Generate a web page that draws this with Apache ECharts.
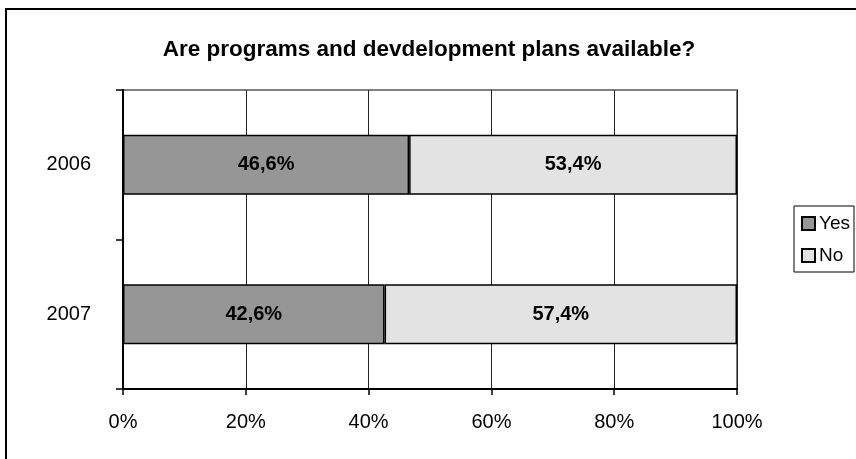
<!DOCTYPE html>
<html><head><meta charset="utf-8">
<script src="https://cdn.jsdelivr.net/npm/echarts@6/dist/echarts.min.js"></script>
<style>html,body{margin:0;padding:0;background:#fff}#c{width:856px;height:459px}</style>
</head><body><div id="c"></div>
<script>
const categories = ['2006', '2007'];
const yesValues = [0.466, 0.426];
const noValues = [0.534, 0.574];
const seriesNames = ['Yes', 'No'];
const xTicks = [0, 0.2, 0.4, 0.6, 0.8, 1];
const title = 'Are programs and devdelopment plans available?';

const font = '"Liberation Sans", Arial, sans-serif';
const fmt = v => (v * 100).toFixed(1).replace('.', ',') + '%';
const chart = echarts.init(document.getElementById('c'), null, {renderer: 'canvas'});
chart.setOption({
  animation: false,
  backgroundColor: '#fff',
  textStyle: {fontFamily: font},
  title: {text: title, left: 424, top: 33, textAlign: 'center',
    textStyle: {fontFamily: font, fontSize: 22.5, fontWeight: 'bold', color: '#000'}},
  graphic: [{type: 'rect', shape: {x: 6, y: 9, width: 900, height: 500},
    style: {fill: 'none', stroke: '#000', lineWidth: 2}, z: 100},
    {type: 'rect', shape: {x: 794, y: 206, width: 60, height: 66},
    style: {fill: '#fff', stroke: '#000', lineWidth: 1}, z: 1}],
  legend: {orient: 'vertical', left: 801, top: 214, itemWidth: 13, itemHeight: 13, itemGap: 13,
    icon: 'rect', data: seriesNames, z: 5, padding: 0,
    textStyle: {fontFamily: font, fontSize: 19, color: '#000', padding: [0, 0, 0, -1]}},
  grid: {left: 123, right: 119, top: 90, bottom: 70, show: true, borderColor: '#808080', borderWidth: 2},
  xAxis: {type: 'value', min: 0, max: 1, interval: 0.2,
    axisLine: {show: true, lineStyle: {color: '#000', width: 2}},
    axisTick: {show: true, length: 6, lineStyle: {color: '#000', width: 1.5}},
    axisLabel: {formatter: v => Math.round(v * 100) + '%', fontFamily: font, fontSize: 20, color: '#000', margin: 23},
    splitLine: {show: true, lineStyle: {color: '#222', width: 1}}},
  yAxis: {type: 'category', data: categories, inverse: true,
    axisLine: {show: true, lineStyle: {color: '#000', width: 2}},
    axisTick: {show: true, length: 7, lineStyle: {color: '#000', width: 1.5}},
    axisLabel: {fontFamily: font, fontSize: 20, color: '#000', margin: 32}},
  series: [
    {name: 'Yes', type: 'bar', stack: 's', data: yesValues, barWidth: '40%',
     itemStyle: {color: '#969696', borderColor: '#000', borderWidth: 1.5},
     label: {show: true, position: 'inside', formatter: p => fmt(p.value), fontFamily: font, fontSize: 20, fontWeight: 'bold', color: '#000'}},
    {name: 'No', type: 'bar', stack: 's', data: noValues, barWidth: '40%',
     itemStyle: {color: '#e3e3e3', borderColor: '#000', borderWidth: 1.5},
     label: {show: true, position: 'inside', formatter: p => fmt(p.value), fontFamily: font, fontSize: 20, fontWeight: 'bold', color: '#000'}}
  ]
});
</script></body></html>
